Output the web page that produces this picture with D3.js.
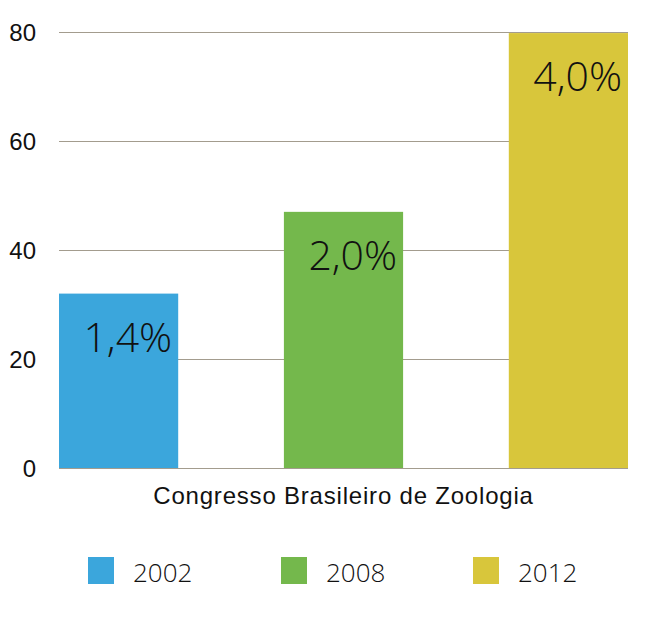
<!DOCTYPE html>
<html>
<head>
<meta charset="utf-8">
<script src="https://cdn.jsdelivr.net/npm/d3@7/dist/d3.min.js"></script>
<style>
  html, body { margin: 0; padding: 0; background: #fff; }
  svg { display: block; }
</style>
</head>
<body>
<div id="chart"></div>
<script>
const years = ["2002", "2008", "2012"];
const values = [32, 47, 79.8];
const barLabels = ["1,4%", "2,0%", "4,0%"];
const colors = ["#3ba6dc", "#74b84c", "#d8c63b"];
const yTicks = [0, 20, 40, 60, 80];
const category = "Congresso Brasileiro de Zoologia";

const W = 665, H = 624;
const margin = { left: 59, right: 37, top: 32, bottom: 156 };
const svg = d3.select("#chart").append("svg").attr("width", W).attr("height", H);

const x = d3.scaleBand().domain(years).range([margin.left, W - margin.right]).paddingInner(0.47).paddingOuter(0);
const y = d3.scaleLinear().domain([0, 80]).range([H - margin.bottom, margin.top]);

// gridlines
svg.append("g").selectAll("line").data(yTicks).join("line")
  .attr("x1", margin.left).attr("x2", W - margin.right)
  .attr("y1", d => y(d) + 0.5).attr("y2", d => y(d) + 0.5)
  .attr("stroke", "#a39c8e").attr("stroke-width", 1);

// y axis labels
const yAxis = d3.axisLeft(y).tickValues(yTicks).tickSize(0).tickPadding(23);
const gy = svg.append("g").attr("transform", `translate(${margin.left},0)`).call(yAxis);
gy.select(".domain").remove();
gy.selectAll("text").attr("font-family", "'Liberation Sans', Arial, sans-serif")
  .attr("font-size", 24).attr("fill", "#111").attr("dy", "0.36em");

// bars
svg.append("g").selectAll("rect").data(years).join("rect")
  .attr("x", d => x(d)).attr("width", x.bandwidth())
  .attr("y", (d, i) => y(values[i])).attr("height", (d, i) => y(0) - y(values[i]))
  .attr("fill", (d, i) => colors[i]);

// bar labels
svg.append("g").selectAll("text").data(years).join("text")
  .attr("x", d => x(d) + x.bandwidth() - 6)
  .attr("y", (d, i) => y(values[i]) + 58)
  .attr("text-anchor", "end")
  .attr("font-family", "'Open Sans', Roboto, sans-serif").attr("font-weight", 300)
  .attr("font-size", 41).attr("fill", "#111")
  .text((d, i) => barLabels[i]);

// category label
svg.append("text")
  .attr("x", (margin.left + W - margin.right) / 2).attr("y", 504)
  .attr("text-anchor", "middle")
  .attr("font-family", "'Liberation Sans', Arial, sans-serif").attr("font-size", 24)
  .attr("letter-spacing", 0.8)
  .attr("fill", "#111").text(category);

// legend
const legendX = [88, 281, 473];
const lg = svg.append("g").selectAll("g").data(years).join("g")
  .attr("transform", (d, i) => `translate(${legendX[i]},557)`);
lg.append("rect").attr("width", 26).attr("height", 27).attr("fill", (d, i) => colors[i]);
lg.append("text").attr("x", 45).attr("y", 25)
  .attr("font-family", "'Open Sans', Roboto, sans-serif").attr("font-weight", 300)
  .attr("font-size", 26).attr("fill", "#111").text(d => d);
</script>
</body>
</html>
